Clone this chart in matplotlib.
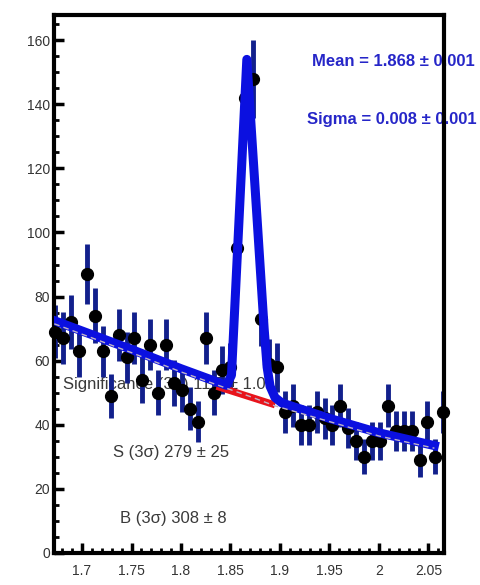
import numpy as np
import matplotlib
matplotlib.use("Agg")
import matplotlib.pyplot as plt
from matplotlib.ticker import MultipleLocator, FuncFormatter

plt.rcParams['font.family'] = ['Liberation Sans', 'DejaVu Sans']

# histogram contents (bin width 0.008)
bin_x = 1.673 + 0.008 * np.arange(50)
counts = [69, 67, 72, 63, 87, 74, 63, 49, 68, 61,
          67, 54, 65, 50, 65, 53, 51, 45, 41, 67,
          50, 57, 58, 95, 142, 148, 73, 59, 58, 44,
          46, 40, 40, 44, 42, 40, 46, 39, 35, 30,
          35, 35, 46, 38, 38, 38, 29, 41, 30, 44]

# fitted curve (signal + background)
fit_x = [1.672, 1.75, 1.80, 1.846, 1.851, 1.8665, 1.884, 1.887, 1.890,
         1.895, 1.902, 1.95, 2.00, 2.056]
fit_y = [72.5, 63.5, 57.5, 52.3, 55.5, 154, 70, 58, 52,
         48.5, 46.8, 42, 37.5, 33.5]

# background only
bg_x = [1.672, 1.75, 1.80, 1.845, 1.87, 1.894, 1.95, 2.00, 2.056]
bg_y = [71.5, 62.5, 56.5, 51.5, 48.8, 46.0, 41.0, 36.5, 32.7]
red_x = [1.836, 1.895]
red_y = [52, 46.2]

fig = plt.figure(figsize=(4.81, 5.85), dpi=100)
ax = fig.add_axes([54/481, 32/585, 390/481, 538.5/585])

err = np.sqrt(counts)
ax.errorbar(bin_x, counts, yerr=err, fmt='none', ecolor='#12208c',
            elinewidth=3.5, capsize=0, zorder=2, clip_on=False)
ax.plot(bin_x, counts, 'o', color='black', ms=8.5, zorder=3, clip_on=False)

ax.plot(red_x, red_y, color='#e8141c', lw=5, zorder=3.5, solid_capstyle='butt')
ax.plot(fit_x, fit_y, color='#0b10e0', lw=6.5, zorder=4, solid_joinstyle='round')
ax.plot(bg_x, bg_y, color='#c0b4c4', lw=1, ls=(0, (4, 3)), zorder=4.5)

ax.set_xlim(1.6717, 2.0657)
ax.set_ylim(0, 168)

ax.xaxis.set_major_locator(MultipleLocator(0.05))
ax.xaxis.set_minor_locator(MultipleLocator(0.01))
ax.xaxis.set_major_formatter(FuncFormatter(lambda v, p: '%g' % round(v, 3)))
ax.yaxis.set_major_locator(MultipleLocator(20))
ax.yaxis.set_minor_locator(MultipleLocator(5))

ax.tick_params(which='both', direction='in', top=False, right=False,
               labelsize=10, labelcolor='#333333')
ax.tick_params(which='major', length=7, width=2.5)
ax.tick_params(which='minor', length=3.5, width=2)
ax.tick_params(axis='x', pad=8)
ax.tick_params(axis='y', pad=3)

for s in ax.spines.values():
    s.set_linewidth(3)
    s.set_zorder(2.5)

blue = '#2626c8'
ax.text(1.9323, 153.4, 'Mean = 1.868 ± 0.001', color=blue, fontsize=12,
        fontweight='bold', va='center', ha='left', zorder=1, clip_on=False)
ax.text(1.9273, 135.3, 'Sigma = 0.008 ± 0.001', color=blue, fontsize=12,
        fontweight='bold', va='center', ha='left', zorder=1, clip_on=False)

grey = '#3a3a3a'
ax.text(1.6808, 52.5, 'Significance (3σ) 11.5 ± 1.0', color=grey, fontsize=12,
        va='center', ha='left', zorder=1)
ax.text(1.7313, 31.3, 'S (3σ) 279 ± 25', color=grey, fontsize=12,
        va='center', ha='left', zorder=1)
ax.text(1.7384, 10.9, 'B (3σ) 308 ± 8', color=grey, fontsize=12,
        va='center', ha='left', zorder=1)

fig.savefig('out.png', dpi=100)
